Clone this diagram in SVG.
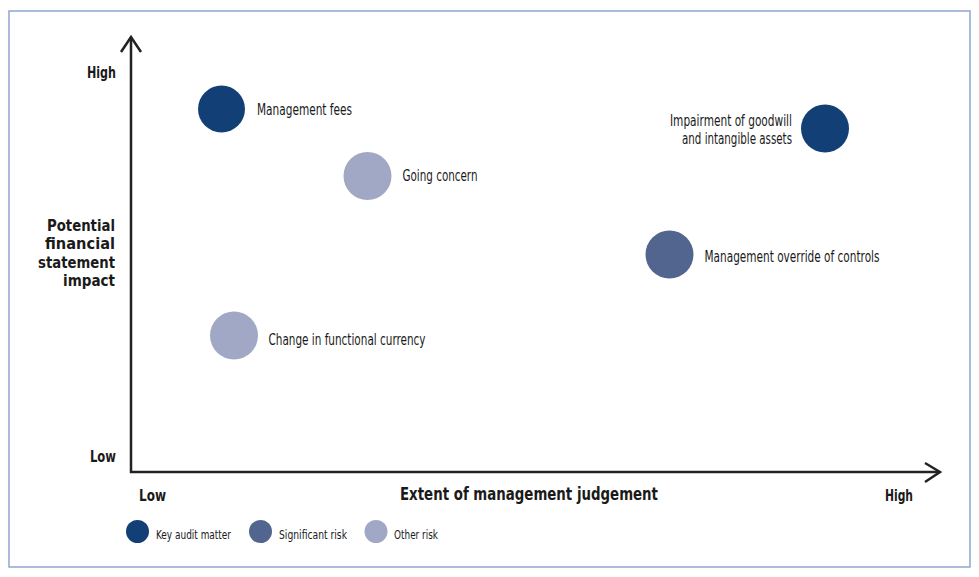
<svg xmlns="http://www.w3.org/2000/svg" width="979" height="577" viewBox="0 0 979 577">
<style>
text{font-family:"Liberation Sans Narrow","DejaVu Sans Condensed","Liberation Sans",sans-serif;fill:#1a1a1a}
.lbl{font-size:15px}
.ax{font-size:16px;font-weight:bold}
.ttl{font-size:18px;font-weight:bold}
.ytl{font-size:15.5px;font-weight:bold}
.leg{font-size:13px}
.kam{fill:#123f76}
.sig{fill:#51658f}
.oth{fill:#a0a8c6}
.axis{fill:none;stroke:#222;stroke-width:2.5}
</style>
<rect x="9" y="11" width="961" height="556" fill="#fff" stroke="#8fa5d0" stroke-width="1.5"/>
<g id="connectors">
<polyline class="axis" points="131,37 131,472 940,472"/>
<polyline class="axis" points="121,52 131,37 141,52"/>
<polyline class="axis" points="925,463 940,472 925,482"/>
</g>
<g id="axis-labels">
<text class="ax" x="116" y="78" text-anchor="end" textLength="29" lengthAdjust="spacingAndGlyphs">High</text>
<text class="ax" x="116" y="462" text-anchor="end" textLength="26" lengthAdjust="spacingAndGlyphs">Low</text>
<text class="ax" x="139" y="501" textLength="27" lengthAdjust="spacingAndGlyphs">Low</text>
<text class="ax" x="885" y="501" textLength="28" lengthAdjust="spacingAndGlyphs">High</text>
<text class="ttl" x="400" y="500" textLength="258" lengthAdjust="spacingAndGlyphs">Extent of management judgement</text>
<text class="ytl" x="115" y="231" text-anchor="end" textLength="68" lengthAdjust="spacingAndGlyphs">Potential</text>
<text class="ytl" x="115" y="249.3" text-anchor="end" textLength="70" lengthAdjust="spacingAndGlyphs">financial</text>
<text class="ytl" x="115" y="267.6" text-anchor="end" textLength="77" lengthAdjust="spacingAndGlyphs">statement</text>
<text class="ytl" x="115" y="285.9" text-anchor="end" textLength="52" lengthAdjust="spacingAndGlyphs">impact</text>
</g>
<g id="node-management-fees">
<circle class="kam" cx="221.5" cy="109" r="23.5"/>
<text class="lbl" x="257" y="115" textLength="95" lengthAdjust="spacingAndGlyphs">Management fees</text>
</g>
<g id="node-going-concern">
<circle class="oth" cx="367.5" cy="176" r="24"/>
<text class="lbl" x="402.5" y="181" textLength="75" lengthAdjust="spacingAndGlyphs">Going concern</text>
</g>
<g id="node-impairment">
<circle class="kam" cx="825" cy="128.5" r="24"/>
<text class="lbl" x="792" y="126" text-anchor="end" textLength="122" lengthAdjust="spacingAndGlyphs">Impairment of goodwill</text>
<text class="lbl" x="792" y="144" text-anchor="end" textLength="110" lengthAdjust="spacingAndGlyphs">and intangible assets</text>
</g>
<g id="node-management-override">
<circle class="sig" cx="669.5" cy="254.5" r="24"/>
<text class="lbl" x="704.5" y="261.5" textLength="175" lengthAdjust="spacingAndGlyphs">Management override of controls</text>
</g>
<g id="node-functional-currency">
<circle class="oth" cx="234" cy="335.5" r="24"/>
<text class="lbl" x="268.5" y="345" textLength="157" lengthAdjust="spacingAndGlyphs">Change in functional currency</text>
</g>
<g id="legend">
<circle class="kam" cx="137.5" cy="531.5" r="11.5"/>
<text class="leg" x="156" y="539" textLength="75" lengthAdjust="spacingAndGlyphs">Key audit matter</text>
<circle class="sig" cx="260.5" cy="531.5" r="11.5"/>
<text class="leg" x="279" y="539" textLength="68" lengthAdjust="spacingAndGlyphs">Significant risk</text>
<circle class="oth" cx="376" cy="531.5" r="11.5"/>
<text class="leg" x="394" y="539" textLength="44" lengthAdjust="spacingAndGlyphs">Other risk</text>
</g>
</svg>
